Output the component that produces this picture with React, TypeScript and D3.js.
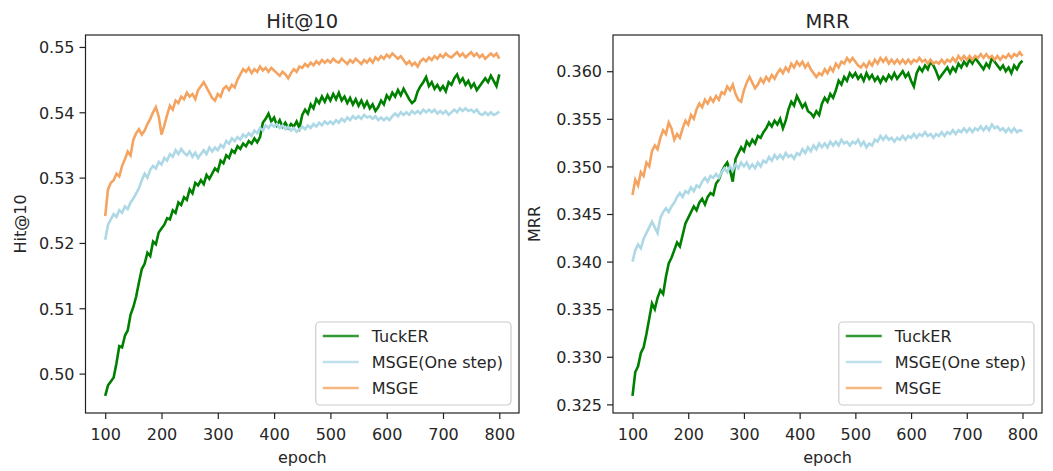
import { useEffect, useRef } from "react";
import * as d3 from "d3";

// epochs sampled every 5 (100..800)
const epochs = d3.range(100, 801, 5);

// Hit@10 panel
const hitTucker = [
  0.4966, 0.4982, 0.4988, 0.4994, 0.5016, 0.5042, 0.5040, 0.5058, 0.5066, 0.5090,
  0.5102, 0.5118, 0.5140, 0.5160, 0.5168, 0.5185, 0.5180, 0.5202, 0.5198, 0.5216,
  0.5222, 0.5228, 0.5238, 0.5236, 0.5250, 0.5246, 0.5262, 0.5258, 0.5270, 0.5266,
  0.5282, 0.5276, 0.5292, 0.5288, 0.5296, 0.5290, 0.5304, 0.5298, 0.5306, 0.5314,
  0.5310, 0.5326, 0.5322, 0.5334, 0.5330, 0.5342, 0.5338, 0.5348, 0.5344, 0.5352,
  0.5348, 0.5356, 0.5352, 0.5360, 0.5354, 0.5362, 0.5384, 0.5390, 0.5398, 0.5386,
  0.5392, 0.5380, 0.5388, 0.5378, 0.5384, 0.5376, 0.5382, 0.5378, 0.5386, 0.5376,
  0.5396, 0.5404, 0.5398, 0.5412, 0.5406, 0.5420, 0.5414, 0.5424, 0.5416, 0.5426,
  0.5418, 0.5428, 0.5420, 0.5430, 0.5418, 0.5424, 0.5414, 0.5422, 0.5412, 0.5420,
  0.5410, 0.5418, 0.5408, 0.5416, 0.5406, 0.5412, 0.5402, 0.5408, 0.5418, 0.5412,
  0.5426, 0.5420, 0.5430, 0.5424, 0.5434, 0.5426, 0.5436, 0.5428, 0.5420, 0.5414,
  0.5418, 0.5432, 0.5440, 0.5446, 0.5454, 0.5440, 0.5446, 0.5436, 0.5442, 0.5434,
  0.5440, 0.5432, 0.5446, 0.5442, 0.5452, 0.5458, 0.5446, 0.5452, 0.5442, 0.5448,
  0.5438, 0.5444, 0.5434, 0.5440, 0.5446, 0.5452, 0.5446, 0.5456, 0.5448, 0.5440,
  0.5458,
];
const hitOneStep = [
  0.5205, 0.5228, 0.5236, 0.5244, 0.5240, 0.5250, 0.5246, 0.5256, 0.5252, 0.5262,
  0.5268, 0.5276, 0.5284, 0.5296, 0.5306, 0.5300, 0.5312, 0.5318, 0.5314, 0.5324,
  0.5320, 0.5330, 0.5326, 0.5336, 0.5332, 0.5342, 0.5336, 0.5344, 0.5338, 0.5334,
  0.5340, 0.5332, 0.5338, 0.5330, 0.5336, 0.5342, 0.5336, 0.5346, 0.5340, 0.5346,
  0.5342, 0.5350, 0.5346, 0.5356, 0.5352, 0.5360, 0.5356, 0.5362, 0.5358, 0.5366,
  0.5362, 0.5368, 0.5364, 0.5372, 0.5368, 0.5376, 0.5372, 0.5380, 0.5376, 0.5382,
  0.5378, 0.5382, 0.5376, 0.5380, 0.5374, 0.5378, 0.5372, 0.5376, 0.5370, 0.5374,
  0.5378, 0.5374, 0.5380, 0.5376, 0.5382, 0.5378, 0.5384, 0.5380, 0.5386, 0.5382,
  0.5386, 0.5382, 0.5388, 0.5384, 0.5390, 0.5386, 0.5392, 0.5388, 0.5394, 0.5390,
  0.5394, 0.5390, 0.5396, 0.5392, 0.5394, 0.5390, 0.5394, 0.5388, 0.5392, 0.5388,
  0.5392, 0.5388, 0.5394, 0.5398, 0.5394, 0.5400, 0.5396, 0.5400, 0.5396, 0.5402,
  0.5398, 0.5402, 0.5398, 0.5404, 0.5400, 0.5404, 0.5400, 0.5404, 0.5398, 0.5402,
  0.5398, 0.5402, 0.5396, 0.5400, 0.5404, 0.5400, 0.5406, 0.5402, 0.5406, 0.5402,
  0.5404, 0.5400, 0.5404, 0.5398, 0.5396, 0.5400, 0.5396, 0.5400, 0.5396, 0.5398,
  0.5401,
];
const hitMsge = [
  0.5241, 0.5282, 0.5292, 0.5296, 0.5306, 0.5302, 0.5318, 0.5328, 0.5340, 0.5334,
  0.5358, 0.5368, 0.5374, 0.5366, 0.5372, 0.5382, 0.5390, 0.5400, 0.5408, 0.5394,
  0.5366, 0.5380, 0.5396, 0.5410, 0.5404, 0.5418, 0.5414, 0.5424, 0.5420, 0.5430,
  0.5424, 0.5428, 0.5420, 0.5434, 0.5440, 0.5446, 0.5438, 0.5430, 0.5422, 0.5418,
  0.5428, 0.5424, 0.5436, 0.5440, 0.5434, 0.5442, 0.5438, 0.5450, 0.5458, 0.5466,
  0.5462, 0.5468, 0.5460, 0.5466, 0.5462, 0.5470, 0.5464, 0.5468, 0.5462, 0.5468,
  0.5464, 0.5460, 0.5456, 0.5462, 0.5458, 0.5452, 0.5460, 0.5466, 0.5462, 0.5470,
  0.5468, 0.5474, 0.5470, 0.5476, 0.5472, 0.5478, 0.5474, 0.5480, 0.5476, 0.5480,
  0.5476, 0.5482, 0.5478, 0.5476, 0.5482, 0.5478, 0.5474, 0.5480, 0.5476, 0.5482,
  0.5478, 0.5474, 0.5480, 0.5476, 0.5482, 0.5476, 0.5484, 0.5480, 0.5486, 0.5482,
  0.5488, 0.5484, 0.5490, 0.5486, 0.5482, 0.5486, 0.5480, 0.5474, 0.5478, 0.5472,
  0.5476, 0.5470, 0.5478, 0.5482, 0.5478, 0.5484, 0.5480, 0.5486, 0.5482, 0.5488,
  0.5484, 0.5490, 0.5486, 0.5484, 0.5488, 0.5492, 0.5486, 0.5490, 0.5484, 0.5488,
  0.5492, 0.5486, 0.5490, 0.5484, 0.5488, 0.5482, 0.5486, 0.5490, 0.5486, 0.5490,
  0.5482,
];

// MRR panel
const mrrTucker = [
  0.3259, 0.3284, 0.3290, 0.3304, 0.3310, 0.3324, 0.3340, 0.3356, 0.3350, 0.3362,
  0.3370, 0.3366, 0.3384, 0.3398, 0.3404, 0.3412, 0.3420, 0.3416, 0.3428, 0.3440,
  0.3446, 0.3452, 0.3458, 0.3454, 0.3462, 0.3466, 0.3460, 0.3468, 0.3472, 0.3470,
  0.3482, 0.3486, 0.3494, 0.3500, 0.3504, 0.3496, 0.3484, 0.3508, 0.3514, 0.3520,
  0.3516, 0.3526, 0.3522, 0.3528, 0.3524, 0.3532, 0.3530, 0.3536, 0.3540, 0.3546,
  0.3542, 0.3548, 0.3544, 0.3550, 0.3540, 0.3548, 0.3560, 0.3568, 0.3564, 0.3574,
  0.3568, 0.3562, 0.3566, 0.3558, 0.3556, 0.3552, 0.3558, 0.3554, 0.3566, 0.3572,
  0.3568, 0.3576, 0.3572, 0.3580, 0.3590, 0.3586, 0.3594, 0.3590, 0.3598, 0.3594,
  0.3598, 0.3592, 0.3596, 0.3590, 0.3598, 0.3592, 0.3596, 0.3590, 0.3594, 0.3588,
  0.3594, 0.3590, 0.3596, 0.3592, 0.3598, 0.3592, 0.3596, 0.3600, 0.3594, 0.3598,
  0.3590, 0.3584, 0.3598, 0.3604, 0.3600, 0.3606, 0.3602, 0.3610, 0.3606, 0.3600,
  0.3592, 0.3596, 0.3600, 0.3604, 0.3598, 0.3604, 0.3600, 0.3608, 0.3604, 0.3610,
  0.3606, 0.3612, 0.3608, 0.3614, 0.3610, 0.3606, 0.3602, 0.3608, 0.3604, 0.3614,
  0.3610, 0.3606, 0.3602, 0.3606, 0.3600, 0.3604, 0.3598, 0.3606, 0.3602, 0.3608,
  0.3611,
];
const mrrOneStep = [
  0.3400, 0.3412, 0.3418, 0.3414, 0.3424, 0.3430, 0.3436, 0.3442, 0.3436, 0.3430,
  0.3446, 0.3452, 0.3456, 0.3452, 0.3458, 0.3462, 0.3468, 0.3472, 0.3468, 0.3474,
  0.3472, 0.3478, 0.3474, 0.3480, 0.3478, 0.3484, 0.3488, 0.3484, 0.3490, 0.3488,
  0.3492, 0.3488, 0.3494, 0.3498, 0.3494, 0.3500, 0.3496, 0.3502, 0.3498, 0.3504,
  0.3500, 0.3504, 0.3498, 0.3502, 0.3498, 0.3504, 0.3500, 0.3506, 0.3504, 0.3510,
  0.3506, 0.3512, 0.3508, 0.3512, 0.3508, 0.3514, 0.3510, 0.3512, 0.3508, 0.3514,
  0.3512, 0.3518, 0.3514, 0.3520, 0.3516, 0.3522, 0.3518, 0.3524, 0.3520, 0.3524,
  0.3520, 0.3526, 0.3522, 0.3526, 0.3522, 0.3528, 0.3524, 0.3526, 0.3522, 0.3526,
  0.3524, 0.3528, 0.3522, 0.3526, 0.3520, 0.3524, 0.3522, 0.3528, 0.3526, 0.3532,
  0.3528, 0.3532, 0.3528, 0.3530, 0.3526, 0.3530, 0.3528, 0.3532, 0.3528, 0.3532,
  0.3530, 0.3534, 0.3530, 0.3534, 0.3532, 0.3536, 0.3532, 0.3534, 0.3530, 0.3534,
  0.3532, 0.3536, 0.3532, 0.3536, 0.3534, 0.3538, 0.3534, 0.3538, 0.3536, 0.3540,
  0.3536, 0.3540, 0.3536, 0.3540, 0.3538, 0.3542, 0.3538, 0.3542, 0.3538, 0.3544,
  0.3540, 0.3542, 0.3538, 0.3540, 0.3536, 0.3540, 0.3536, 0.3540, 0.3536, 0.3538,
  0.3537,
];
const mrrMsge = [
  0.3470, 0.3486, 0.3480, 0.3494, 0.3490, 0.3504, 0.3500, 0.3516, 0.3522, 0.3518,
  0.3530, 0.3538, 0.3534, 0.3546, 0.3540, 0.3528, 0.3534, 0.3530, 0.3540, 0.3548,
  0.3544, 0.3554, 0.3550, 0.3560, 0.3566, 0.3562, 0.3570, 0.3566, 0.3572, 0.3568,
  0.3574, 0.3570, 0.3578, 0.3576, 0.3584, 0.3580, 0.3586, 0.3576, 0.3570, 0.3568,
  0.3580, 0.3588, 0.3594, 0.3588, 0.3582, 0.3586, 0.3592, 0.3588, 0.3594, 0.3590,
  0.3596, 0.3592, 0.3598, 0.3602, 0.3598, 0.3604, 0.3600, 0.3608, 0.3604, 0.3610,
  0.3606, 0.3610, 0.3604, 0.3608, 0.3602, 0.3598, 0.3594, 0.3598, 0.3596, 0.3602,
  0.3598, 0.3604, 0.3600, 0.3608, 0.3604, 0.3610, 0.3608, 0.3614, 0.3610, 0.3614,
  0.3610, 0.3606, 0.3604, 0.3608, 0.3604, 0.3610, 0.3606, 0.3612, 0.3608, 0.3614,
  0.3610, 0.3614, 0.3608, 0.3612, 0.3608, 0.3612, 0.3608, 0.3612, 0.3608, 0.3612,
  0.3608, 0.3612, 0.3610, 0.3614, 0.3610, 0.3612, 0.3608, 0.3612, 0.3608, 0.3610,
  0.3608, 0.3612, 0.3608, 0.3612, 0.3610, 0.3614, 0.3610, 0.3616, 0.3612, 0.3616,
  0.3612, 0.3616, 0.3612, 0.3616, 0.3614, 0.3618, 0.3614, 0.3618, 0.3614, 0.3616,
  0.3612, 0.3616, 0.3612, 0.3616, 0.3614, 0.3618, 0.3614, 0.3618, 0.3616, 0.3620,
  0.3616,
];

const seriesNames = ["TuckER", "MSGE(One step)", "MSGE"];
const seriesColors = ["green", "lightblue", "sandybrown"];
const xTicks = [100, 200, 300, 400, 500, 600, 700, 800];
const hitTicks = [0.5, 0.51, 0.52, 0.53, 0.54, 0.55];
const mrrTicks = [0.325, 0.33, 0.335, 0.34, 0.345, 0.35, 0.355, 0.36];

const FONT = "DejaVu Sans, Verdana, sans-serif";
const FS = 16;

const drawPanel = (svg, opt) => {
  const { left, right, top, bottom, title, ylabel, series, yTicks, fmt, ylabelX } = opt;
  const g = svg.append("g");

  const x = d3.scaleLinear().domain([65, 835]).range([left, right]);
  const all = series.flat();
  const lo = d3.min(all), hi = d3.max(all);
  const pad = (hi - lo) * 0.05;
  const y = d3.scaleLinear().domain([lo - pad, hi + pad]).range([bottom, top]);

  // lines
  const line = d3.line().x((d, i) => x(epochs[i])).y((d) => y(d));
  series.forEach((s, k) => {
    g.append("path")
      .datum(s)
      .attr("fill", "none")
      .attr("stroke", seriesColors[k])
      .attr("stroke-width", 2.6)
      .attr("stroke-linejoin", "miter")
      .attr("d", line);
  });

  // axes
  const xAxis = g.append("g")
    .attr("transform", `translate(0,${bottom})`)
    .call(d3.axisBottom(x).tickValues(xTicks).tickSize(6).tickPadding(5).tickFormat(d3.format("d")));
  const yAxis = g.append("g")
    .attr("transform", `translate(${left},0)`)
    .call(d3.axisLeft(y).tickValues(yTicks).tickSize(6).tickPadding(5).tickFormat(d3.format(fmt)));
  [xAxis, yAxis].forEach((a) => {
    a.select(".domain").remove();
    a.selectAll("line").attr("stroke", "#222").attr("stroke-width", 1.2);
    a.selectAll("text").attr("fill", "#262626").style("font-family", FONT).style("font-size", FS + "px");
  });
  xAxis.selectAll("text").attr("dy", null).attr("y", 27);
  yAxis.selectAll("text").attr("dy", "0.36em");

  g.append("rect")
    .attr("x", left).attr("y", top)
    .attr("width", right - left).attr("height", bottom - top)
    .attr("fill", "none").attr("stroke", "#222").attr("stroke-width", 1.2);

  g.append("text")
    .attr("x", (left + right) / 2).attr("y", 28)
    .attr("text-anchor", "middle")
    .style("font-family", FONT).style("font-size", "19.5px").attr("fill", "#262626")
    .text(title);
  g.append("text")
    .attr("x", (left + right) / 2).attr("y", 463)
    .attr("text-anchor", "middle")
    .style("font-family", FONT).style("font-size", FS + "px").attr("fill", "#262626")
    .text("epoch");
  g.append("text")
    .attr("transform", `translate(${ylabelX},${(top + bottom) / 2}) rotate(-90)`)
    .attr("text-anchor", "middle")
    .style("font-family", FONT).style("font-size", FS + "px").attr("fill", "#262626")
    .text(ylabel);

  // legend, lower right
  const lg = g.append("g");
  const box = lg.append("rect");
  const rowH = 26;
  const texts = seriesNames.map((name) =>
    lg.append("text")
      .attr("y", 0)
      .attr("dy", "0.36em")
      .style("font-family", FONT).style("font-size", FS + "px").attr("fill", "#262626")
      .text(name)
  );
  const tw = d3.max(texts, (t) => t.node().getComputedTextLength());
  const w = 7 + 36 + 13 + tw + 8;
  const h = 83;
  const bx = right - 8 - w, by = bottom - 8 - h;
  box.attr("x", bx).attr("y", by).attr("width", w).attr("height", h)
    .attr("rx", 4).attr("fill", "white").attr("fill-opacity", 0.8)
    .attr("stroke", "#cccccc").attr("stroke-width", 1.2);
  seriesNames.forEach((name, k) => {
    const cy = by + 14 + k * rowH;
    lg.append("line")
      .attr("x1", bx + 7).attr("x2", bx + 7 + 36)
      .attr("y1", cy).attr("y2", cy)
      .attr("stroke", seriesColors[k]).attr("stroke-width", 2.6).attr("stroke-opacity", 0.8);
    texts[k].attr("x", bx + 7 + 36 + 13).attr("y", cy);
  });
};

const App = () => {
  const ref = useRef(null);

  useEffect(() => {
    const svg = d3.select(ref.current);
    svg.selectAll("*").remove();
    drawPanel(svg, {
      left: 85.5, right: 519, top: 35, bottom: 413,
      title: "Hit@10", ylabel: "Hit@10",
      series: [hitTucker, hitOneStep, hitMsge],
      yTicks: hitTicks, fmt: ".2f", ylabelX: 26,
    });
    drawPanel(svg, {
      left: 613, right: 1042, top: 35, bottom: 413,
      title: "MRR", ylabel: "MRR",
      series: [mrrTucker, mrrOneStep, mrrMsge],
      yTicks: mrrTicks, fmt: ".3f", ylabelX: 540,
    });
  }, []);

  return (
    <svg
      ref={ref}
      width={1053}
      height={471}
      style={{ position: "absolute", left: 0, top: 0, background: "white" }}
    />
  );
};

export default App;
